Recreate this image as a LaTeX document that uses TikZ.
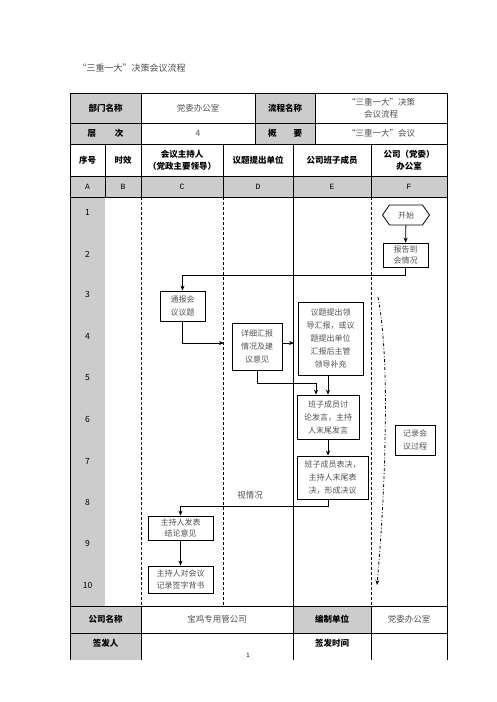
\documentclass[tikz,border=0pt]{standalone}
\usepackage{fontspec}
\setmainfont{Noto Sans CJK SC}
\newfontfamily\colfont{Liberation Mono}
\usetikzlibrary{arrows.meta,shapes.symbols}
\definecolor{cellgray}{RGB}{204,204,204}
\definecolor{textgray}{RGB}{80,80,80}

\begin{document}
\begin{tikzpicture}[x=1pt, y=-1pt, >={Stealth[length=5pt,width=4pt]},
  tbl/.style={line width=0.8pt},
  lane/.style={line width=0.8pt, dash pattern=on 3pt off 2pt},
  hdr/.style={font=\fontsize{8.5}{12}\selectfont\bfseries, align=center},
  val/.style={font=\fontsize{8.5}{12}\selectfont, text=textgray, align=center},
  box/.style={draw, line width=0.8pt, inner sep=0pt, align=center, text=textgray,
    font=\fontsize{8}{13}\selectfont},
  tight/.style={font=\fontsize{8}{11.5}\selectfont},
  flow/.style={line width=0.8pt, ->}]
  \useasboundingbox (0,0) rectangle (496,702);

  % grey cells
  \fill[cellgray] (70,93) rectangle (141,144);
  \fill[cellgray] (255,93) rectangle (315,144);
  \fill[cellgray] (70,176) rectangle (447,197);
  \fill[cellgray] (70,197) rectangle (105,606);
  \fill[cellgray] (70,606) rectangle (141,660);
  \fill[cellgray] (293,606) rectangle (371,633);

  % table lines
  \draw[tbl] (70,660) -- (70,93) -- (447,93) -- (447,660);
  \foreach \y in {123,144,176,197,606,633}
    \draw[tbl] (70,\y) -- (447,\y);
  \foreach \x in {141,255,315}
    \draw[tbl] (\x,93) -- (\x,144);
  \foreach \x in {105,141,223,293,371}
    \draw[tbl] (\x,144) -- (\x,197);
  \foreach \x in {141,223,371}
    \draw[lane] (\x,197) -- (\x,606);
  \draw[tbl] (293,197) -- (293,606);
  \foreach \x in {141,293,371}
    \draw[tbl] (\x,606) -- (\x,660);

  % title and header
  \node[anchor=west, font=\fontsize{9}{11}\selectfont, text=textgray] (title) at (74,68) {“三重一大”决策会议流程};
  \node[hdr] (deptKey) at (105.5,108) {部门名称};
  \node[val] (deptVal) at (198,108) {党委办公室};
  \node[hdr] (procKey) at (285,108) {流程名称};
  \node[val] (procVal) at (381,108) {“三重一大”决策\\会议流程};
  \node[hdr] (levelKey) at (105.5,133.5) {层\hspace{2.2em}次};
  \node[val] (levelVal) at (198,133.5) {4};
  \node[hdr] (sumKey) at (285,133.5) {概\hspace{2em}要};
  \node[val] (sumVal) at (381,133.5) {“三重一大”会议};
  \node[hdr] (hNo) at (87.5,160) {序号};
  \node[hdr] (hTime) at (123,160) {时效};
  \node[hdr] (hHost) at (182,160) {会议主持人\\（党政主要领导）};
  \node[hdr] (hUnit) at (258,160) {议题提出单位};
  \node[hdr] (hTeam) at (332,160) {公司班子成员};
  \node[hdr] (hOffice) at (409,160) {公司（党委）\\办公室};
  \foreach \c/\x in {A/87.5,B/123,C/182,D/258,E/332,F/409}
    \node[font=\colfont\fontsize{8}{10}\selectfont] (col\c) at (\x,186.5) {\c};
  \foreach \n/\y in {1/212,2/254,3/294,4/336,5/378,6/419,7/461,8/502,9/543,10/585}
    \node[font=\fontsize{8.5}{10}\selectfont] (row\n) at (87.5,\y) {\n};

  % flow
  \node[box, signal, signal to=west and east, signal pointer angle=110,
    minimum width=47pt, minimum height=20pt] (start) at (406,215) {开始};
  \node[box, tight, minimum width=45pt, minimum height=24pt] (report) at (405.5,255) {报告到\\会情况};
  \node[box, minimum width=45pt, minimum height=30pt] (notify) at (182.5,306) {通报会\\议议题};
  \node[box, minimum width=50pt, minimum height=47pt] (detail) at (257,346.5) {详细汇报\\情况及建\\议意见};
  \node[box, minimum width=65pt, minimum height=73pt] (topic) at (330.5,338.5) {议题提出领\\导汇报，或议\\题提出单位\\汇报后主管\\领导补充};
  \node[box, minimum width=62pt, minimum height=44pt] (discuss) at (328,417) {班子成员讨\\论发言，主持\\人末尾发言};
  \node[box, minimum width=71pt, minimum height=43pt] (vote) at (332.5,477.5) {班子成员表决，\\主持人末尾表\\决，形成决议};
  \node[box, tight, minimum width=65pt, minimum height=24pt] (conclude) at (180.5,528) {主持人发表\\结论意见};
  \node[box, tight, minimum width=65pt, minimum height=27pt] (sign) at (180.5,579.5) {主持人对会议\\记录签字背书};
  \node[box, minimum width=40pt, minimum height=30pt] (record) at (415,440) {记录会\\议过程};
  \node[val] (maybe) at (250,495) {视情况};

  \coordinate (dIn) at (224,343);
  \coordinate (eIn) at (294,343);
  \coordinate (join) at (316,383);
  \coordinate (recTop) at (378,297);
  \coordinate (recMid) at (385,440);
  \coordinate (recEnd) at (377,585);

  \draw[flow] (start) -- (report);
  \draw[flow] (report.south) -- ++(0,8) -| (notify.north);
  \draw[flow] (notify.south) |- (dIn);
  \draw[flow] (detail.east |- eIn) -- (eIn);
  \draw[flow] (detail.south) |- (join) -- (join |- discuss.north);
  \draw[flow] (discuss.north |- topic.south) -- (discuss.north);
  \draw[flow] (discuss.south) -- (discuss.south |- vote.north);
  \draw[flow] (discuss.south |- vote.south) -- ++(0,7) -| (conclude.north);
  \draw[flow] (conclude) -- (sign);
  \draw[line width=0.8pt, dash dot, ->] (recTop) .. controls (386,340) and (386,400) .. (recMid)
    .. controls (384,500) and (380,550) .. (recEnd);

  % footer
  \node[hdr] (compKey) at (105.5,619.5) {公司名称};
  \node[val] (compVal) at (217,619.5) {宝鸡专用管公司};
  \node[hdr] (editKey) at (332,619.5) {编制单位};
  \node[val] (editVal) at (409,619.5) {党委办公室};
  \node[hdr] (signKey) at (105.5,643) {签发人};
  \node[hdr] (dateKey) at (332,643) {签发时间};
  \node[font=\fontsize{6}{7}\selectfont] (page) at (248,655) {1};
\end{tikzpicture}
\end{document}
